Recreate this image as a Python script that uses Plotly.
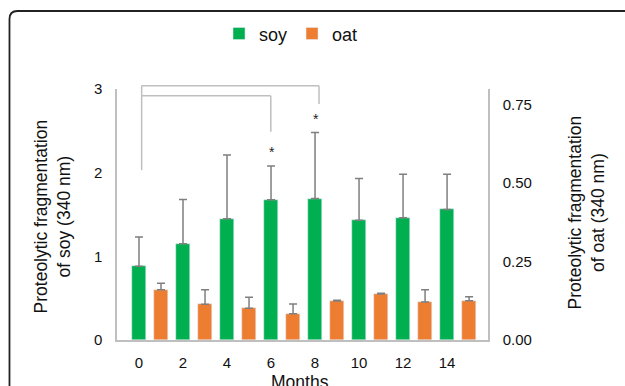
import plotly.graph_objects as go

months = [0, 2, 4, 6, 8, 10, 12, 14]
soy = [0.88, 1.15, 1.45, 1.675, 1.69, 1.43, 1.46, 1.56]
soy_err_top = [1.23, 1.68, 2.21, 2.08, 2.48, 1.93, 1.98, 1.98]
oat = [0.160, 0.114, 0.101, 0.084, 0.1245, 0.147, 0.121, 0.125]
oat_err_top = [0.181, 0.160, 0.136, 0.115, 0.127, 0.149, 0.160, 0.138]

left_ticks = [0, 1, 2, 3]
right_ticks = [0, 0.25, 0.5, 0.75]
right_ticktext = ["0.00", "0.25", "0.50", "0.75"]

# significance brackets (in soy-axis units): start month, end month, bar height, leg bottom
brackets = [
    dict(x0=0.12, x1=8.18, top=3.04, leg=2.82),
    dict(x0=0.12, x1=5.99, top=2.92, leg=2.49),
]
bracket_left_bottom = 2.03
stars = [dict(x=6.05, y=2.25), dict(x=8.05, y=2.64)]

GREEN = "#00b050"
ORANGE = "#ed7d31"
AX = "#bfbfbf"
FONT = "Liberation Sans, Arial, sans-serif"

fig = go.Figure()
fig.add_trace(go.Bar(
    x=months, y=soy, name="soy", marker_color=GREEN, width=0.6, offset=-0.3,
    error_y=dict(type="data", symmetric=False,
                 array=[t - v for t, v in zip(soy_err_top, soy)],
                 arrayminus=[0] * len(soy), color="#7f7f7f", thickness=1.5, width=4),
    yaxis="y",
))
fig.add_trace(go.Bar(
    x=months, y=oat, name="oat", marker_color=ORANGE, width=0.6, offset=0.7,
    error_y=dict(type="data", symmetric=False,
                 array=[t - v for t, v in zip(oat_err_top, oat)],
                 arrayminus=[0] * len(oat), color="#7f7f7f", thickness=1.5, width=4),
    yaxis="y2",
))

shapes = []
ymax = left_ticks[-1]
for b in brackets:
    shapes.append(dict(type="line", xref="x", yref="paper", x0=b["x0"], x1=b["x1"],
                       y0=b["top"] / ymax, y1=b["top"] / ymax, line=dict(color=AX, width=1.5)))
    shapes.append(dict(type="line", xref="x", yref="paper", x0=b["x1"], x1=b["x1"],
                       y0=b["top"] / ymax, y1=b["leg"] / ymax, line=dict(color=AX, width=1.5)))
top_max = max(b["top"] for b in brackets)
shapes.append(dict(type="line", xref="x", yref="paper", x0=brackets[0]["x0"], x1=brackets[0]["x0"],
                   y0=top_max / ymax, y1=bracket_left_bottom / ymax, line=dict(color=AX, width=1.5)))

# outer rounded frame (paper coords)
fx0, fy0 = -0.2898, 1.3108
rx, ry = 8 / 371, 8 / 251
frame_path = (f"M {fx0},-0.3 L {fx0},{fy0 - ry} Q {fx0},{fy0} {fx0 + rx},{fy0} L 1.5,{fy0}")
shapes.append(dict(type="path", xref="paper", yref="paper", path=frame_path,
                   line=dict(color="#222222", width=1.8)))

annotations = []
for s in stars:
    annotations.append(dict(x=s["x"], y=s["y"], xref="x", yref="y", text="*", showarrow=False,
                            font=dict(size=14, color="#222222", family=FONT),
                            xanchor="center", yanchor="middle"))
annotations.append(dict(x=-0.174, y=0.494, xref="paper", yref="paper",
                        text="Proteolytic fragmentation<br>of soy (340 nm)", textangle=-90,
                        showarrow=False, font=dict(size=17.5, color="#111111", family=FONT),
                        xanchor="center", yanchor="middle"))
annotations.append(dict(x=1.268, y=0.51, xref="paper", yref="paper",
                        text="Proteolytic fragmentation<br>of oat (340 nm)", textangle=-90,
                        showarrow=False, font=dict(size=17.5, color="#111111", family=FONT),
                        xanchor="center", yanchor="middle"))
annotations.append(dict(x=0.493, y=-0.166, xref="paper", yref="paper", text="Months",
                        showarrow=False, font=dict(size=17.5, color="#111111", family=FONT),
                        xanchor="center", yanchor="middle"))

fig.update_layout(
    width=625, height=386,
    margin=dict(l=117, r=137, t=89, b=46),
    paper_bgcolor="white", plot_bgcolor="white",
    font=dict(family=FONT, size=15, color="#111111"),
    showlegend=True,
    legend=dict(orientation="h", x=0.275, y=1.22, xanchor="left", yanchor="middle",
                font=dict(size=18, family=FONT), bgcolor="rgba(0,0,0,0)", traceorder="normal"),
    xaxis=dict(range=[-1, 15.86], tickvals=months, ticktext=[str(m) for m in months],
               showline=True, linecolor=AX, linewidth=1.5, showgrid=False, zeroline=False,
               ticks="outside", ticklen=8, tickcolor="rgba(0,0,0,0)", tickfont=dict(size=15)),
    yaxis=dict(range=[0, 3], tickvals=left_ticks, showline=True, linecolor=AX, linewidth=1.5,
               showgrid=False, zeroline=False, ticks="outside", ticklen=10,
               tickcolor="rgba(0,0,0,0)", tickfont=dict(size=15)),
    yaxis2=dict(range=[0, 0.8], tickvals=right_ticks, ticktext=right_ticktext, overlaying="y",
                side="right", showline=True, linecolor=AX, linewidth=1.5, showgrid=False,
                zeroline=False, ticks="outside", ticklen=10, tickcolor="rgba(0,0,0,0)",
                tickfont=dict(size=15)),
    shapes=shapes, annotations=annotations,
    bargap=0,
)

fig.write_html("out.html")
